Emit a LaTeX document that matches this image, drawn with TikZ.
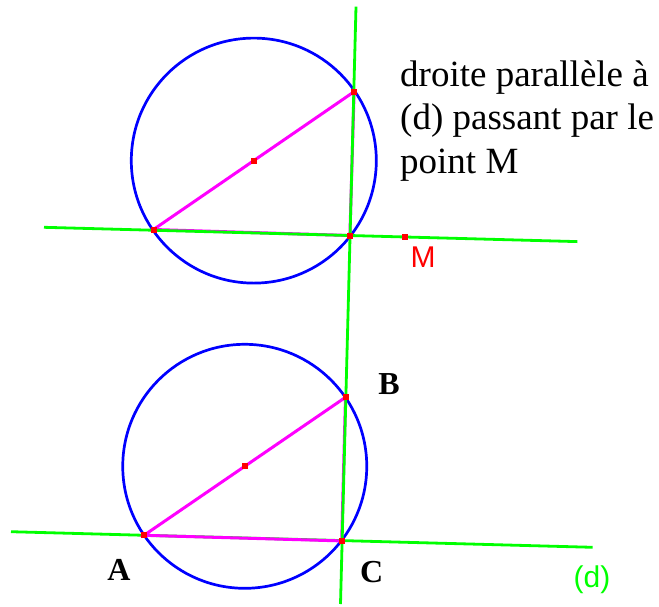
\documentclass[tikz,border=0pt]{standalone}
\usepackage{fontspec}
\setmainfont{Liberation Serif}
\newfontfamily\labelsans{Liberation Sans}
\usetikzlibrary{calc}
\definecolor{geoblue}{RGB}{0,0,255}
\definecolor{geogreen}{RGB}{0,255,0}
\definecolor{geomagenta}{RGB}{255,0,255}
\definecolor{geored}{RGB}{255,0,0}

\begin{document}
\begin{tikzpicture}[
    x=1pt, y=-1pt,
    dline/.style={draw=geogreen, line width=2.8pt},
    circ/.style={draw=geoblue, line width=2.7pt},
    side/.style={draw=geomagenta, line width=3pt},
    pt/.style={rectangle, fill=geored, inner sep=0pt, minimum size=6pt},
    vertex/.style={font=\bfseries\fontsize{32}{36}\selectfont, inner sep=0pt},
    tag/.style={font=\labelsans\fontsize{30}{34}\selectfont, inner sep=0pt},
]
\useasboundingbox (0,0) rectangle (659,606);

% === points ===
\coordinate (P) at (153.5,229.5);
\coordinate (Q) at (354.1,91.7);
\coordinate (R) at (349.9,235.5);
\coordinate (A) at (144,535.3);
\coordinate (B) at (345.5,397.3);
\coordinate (C) at (341.7,540.9);
\coordinate (M) at (405,237);
\coordinate (O1) at ($(P)!0.5!(Q)$);
\coordinate (O2) at ($(A)!0.5!(B)$);

% line ends
\coordinate (t1) at (44,227.3);
\coordinate (t2) at (577.3,241.6);
\coordinate (d1) at (11,531.7);
\coordinate (d2) at (592.7,547.3);
\coordinate (v1) at (356,6.7);
\coordinate (v2) at (340.5,604);

% === upper figure ===
\draw[circ] (O1) circle (122.5);
\draw[side] (P) -- (Q) -- (R) -- cycle;
\draw[dline] (t1) -- (t2);

% === lower figure ===
\draw[circ] (O2) circle (122);
\draw[dline] (d1) -- (d2);
\draw[side] (A) -- (B) -- (C) -- cycle;

% perpendicular through B
\draw[dline] (v1) -- (v2);

% red points
\foreach \p in {P,Q,R,O1,A,B,C,O2,M}
  \node[pt] (pt\p) at (\p) {};

% === labels ===
\node[vertex] (labA) at (119,570) {A};
\node[vertex] (labB) at (389,384) {B};
\node[vertex] (labC) at (371.7,572) {C};
\node[tag, text=geored] (labM) at (423,257) {M};
\node[tag, text=geogreen] (labd) at (592,580) {(d)};

\node[anchor=base west, inner sep=0pt, align=left,
      font=\fontsize{37}{43.6}\selectfont] (note) at (400,173.3)
  {droite parallèle à\\(d) passant par le\\point M};

\end{tikzpicture}
\end{document}
